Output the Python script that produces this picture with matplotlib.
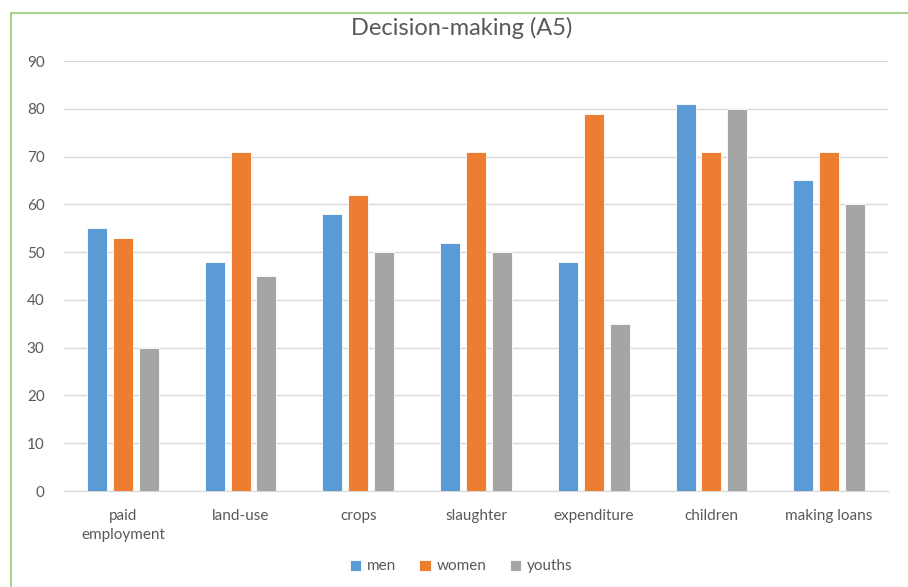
"""Grouped bar chart of decision-making shares by group."""

import matplotlib.pyplot as plt
import numpy as np
from matplotlib.lines import Line2D

categories = ["paid\nemployment", "land-use", "crops", "slaughter",
              "expenditure", "children", "making loans"]
series_names = ["men", "women", "youths"]
men = [55, 48, 58, 52, 48, 81, 65]
women = [53, 71, 62, 71, 79, 71, 71]
youths = [30, 45, 50, 50, 35, 80, 60]
y_ticks = list(range(0, 100, 10))

colors = ["#5B9BD5", "#ED7D31", "#A5A5A5"]
text_color = "#595959"


def main() -> None:
    plt.rcParams["font.family"] = ["Lato", "DejaVu Sans"]

    fig = plt.figure(figsize=(9.08, 5.87), dpi=100)
    ax = fig.add_axes([0.0705, 0.1635, 0.9075, 0.7325])

    x = np.arange(len(categories))
    width = 0.17
    step = 0.22
    for i, (name, values) in enumerate(zip(series_names, [men, women, youths])):
        ax.bar(x + (i - 1) * step, values, width=width, color=colors[i],
               edgecolor="white", linewidth=0.6, label=name, zorder=3)

    ax.set_xlim(-0.5, len(categories) - 0.5)
    ax.set_ylim(0, 90)
    ax.set_yticks(y_ticks)
    ax.set_xticks(x)
    ax.set_xticklabels(categories, fontsize=11, color=text_color, linespacing=1.45)
    ax.tick_params(axis="y", labelsize=11, labelcolor=text_color, length=0, pad=14)
    ax.tick_params(axis="x", length=0, pad=13)
    ax.grid(axis="y", color="#D9D9D9", linewidth=1, zorder=0)
    for side in ["top", "right", "left"]:
        ax.spines[side].set_visible(False)
    ax.spines["bottom"].set_color("#D9D9D9")

    # title sits centred on the whole chart area, not the plot area
    fig.text(0.509, 0.952, "Decision-making (A5)", fontsize=17, color=text_color,
             ha="center", va="center")

    fig.legend(loc="center", bbox_to_anchor=(0.508, 0.035), ncol=3, frameon=False,
               fontsize=11, labelcolor=text_color, handlelength=0.75,
               handleheight=0.75, handletextpad=0.4, columnspacing=1.5)

    # chart frame edges
    frame = "#A9D18E"
    fig.add_artist(Line2D([11 / 908, 11 / 908], [0, 1 - 13 / 587],
                          transform=fig.transFigure, color=frame, linewidth=1.5))
    fig.add_artist(Line2D([11 / 908, 1], [1 - 13 / 587, 1 - 13 / 587],
                          transform=fig.transFigure, color=frame, linewidth=1.5))

    fig.savefig("out.png", dpi=100)
    plt.close(fig)


if __name__ == "__main__":
    main()
